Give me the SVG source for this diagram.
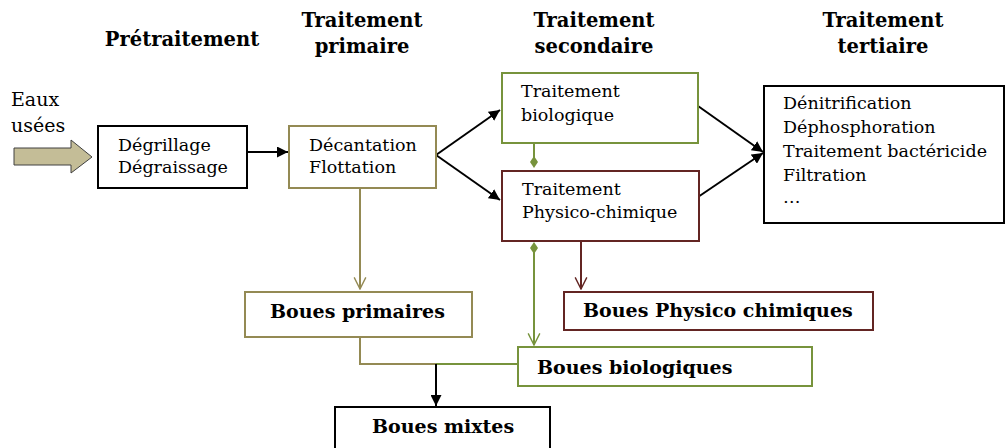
<svg xmlns="http://www.w3.org/2000/svg" width="1007" height="448" viewBox="0 0 1007 448">
<style>
text{font-family:"DejaVu Serif","Liberation Serif",serif;fill:#000}
.hd{font-weight:bold;font-size:19.5px;text-anchor:middle}
.t{font-size:17.5px}
.e{font-size:19px}
.b{font-weight:bold;font-size:19px}
.box{fill:#fff;stroke-width:2}
.k{stroke:#000}
.ol{stroke:#948a54}
.gr{stroke:#77933c}
.rd{stroke:#632523}
.ln{fill:none;stroke-width:2}
</style>
<defs>
<marker id="ak" viewBox="0 0 10 10" refX="10" refY="5" markerWidth="5.5" markerHeight="5.5" orient="auto" markerUnits="strokeWidth"><path d="M0,0L10,5L0,10z" fill="#000"/></marker>
<marker id="vo" viewBox="0 0 12 12" refX="11" refY="6" markerWidth="7" markerHeight="7" orient="auto" markerUnits="strokeWidth"><path d="M1,1L11,6L1,11" fill="none" stroke="#948a54" stroke-width="1.2"/></marker>
<marker id="vg" viewBox="0 0 12 12" refX="11" refY="6" markerWidth="7" markerHeight="7" orient="auto" markerUnits="strokeWidth"><path d="M1,1L11,6L1,11" fill="none" stroke="#77933c" stroke-width="1.2"/></marker>
<marker id="vr" viewBox="0 0 12 12" refX="11" refY="6" markerWidth="7" markerHeight="7" orient="auto" markerUnits="strokeWidth"><path d="M1,1L11,6L1,11" fill="none" stroke="#632523" stroke-width="1.2"/></marker>
<marker id="dg" viewBox="0 0 12 8" refX="6" refY="4" markerWidth="6" markerHeight="4" orient="auto" markerUnits="strokeWidth"><path d="M0,4L6,0L12,4L6,8z" fill="#77933c"/></marker>
</defs>

<g id="headers">
<text class="hd" x="182" y="46">Prétraitement</text>
<text class="hd" x="362" y="27">Traitement</text>
<text class="hd" x="362" y="53">primaire</text>
<text class="hd" x="594" y="27">Traitement</text>
<text class="hd" x="594" y="53">secondaire</text>
<text class="hd" x="883" y="27">Traitement</text>
<text class="hd" x="883" y="53">tertiaire</text>
</g>

<g id="input">
<text class="e" x="11" y="106">Eaux</text>
<text class="e" x="11" y="132">usées</text>
<path d="M14,148H71V140L92,157L71,173V165H14Z" fill="#c4bd97" stroke="#404040" stroke-width="1"/>
</g>

<g id="connectors">
<line class="ln k" x1="247" y1="152" x2="288" y2="152" marker-end="url(#ak)"/>
<line class="ln k" x1="436" y1="155" x2="500" y2="110" marker-end="url(#ak)"/>
<line class="ln k" x1="436" y1="155" x2="500" y2="200" marker-end="url(#ak)"/>
<line class="ln k" x1="698" y1="106" x2="763" y2="152" marker-end="url(#ak)"/>
<line class="ln k" x1="698" y1="197" x2="763" y2="153" marker-end="url(#ak)"/>
<line class="ln gr" x1="534" y1="143" x2="534" y2="162" marker-end="url(#dg)"/>
<line class="ln gr" x1="534" y1="248" x2="534" y2="345" marker-start="url(#dg)" marker-end="url(#vg)"/>
<line class="ln rd" x1="581" y1="241" x2="581" y2="289" marker-end="url(#vr)"/>
<line class="ln ol" x1="360" y1="188" x2="360" y2="289" marker-end="url(#vo)"/>
<polyline class="ln ol" points="360,337 360,364 437,364"/>
<line class="ln gr" x1="436" y1="364" x2="518" y2="364"/>
<line class="ln k" x1="436" y1="364" x2="436" y2="406" marker-end="url(#ak)"/>
</g>

<g id="pretraitement">
<rect class="box k" x="98" y="126" width="149" height="62"/>
<text class="t" x="118" y="151">Dégrillage</text>
<text class="t" x="118" y="173">Dégraissage</text>
</g>

<g id="primaire">
<rect class="box ol" x="289" y="126" width="147" height="62"/>
<text class="t" x="309" y="151">Décantation</text>
<text class="t" x="309" y="173">Flottation</text>
</g>

<g id="biologique">
<rect class="box gr" x="502" y="73" width="196" height="70"/>
<text class="t" x="521" y="97">Traitement</text>
<text class="t" x="521" y="121">biologique</text>
</g>

<g id="physico">
<rect class="box rd" x="502" y="171" width="197" height="70"/>
<text class="t" x="522" y="195">Traitement</text>
<text class="t" x="522" y="218">Physico-chimique</text>
</g>

<g id="tertiaire">
<rect class="box k" x="764" y="86" width="240" height="137"/>
<text class="t" x="783" y="109">Dénitrification</text>
<text class="t" x="783" y="133">Déphosphoration</text>
<text class="t" x="783" y="157">Traitement bactéricide</text>
<text class="t" x="783" y="181">Filtration</text>
<text class="t" x="783" y="203">…</text>
</g>

<g id="boues-primaires">
<rect class="box ol" x="245" y="292" width="227" height="45"/>
<text class="b" x="270" y="318">Boues primaires</text>
</g>

<g id="boues-physico">
<rect class="box rd" x="564" y="292" width="309" height="38"/>
<text class="b" x="583" y="317">Boues Physico chimiques</text>
</g>

<g id="boues-biologiques">
<rect class="box gr" x="518" y="347" width="294" height="39"/>
<text class="b" x="537" y="374">Boues biologiques</text>
</g>

<g id="boues-mixtes">
<rect class="box k" x="335" y="407" width="215" height="44"/>
<text class="b" x="372" y="433">Boues mixtes</text>
</g>
</svg>
